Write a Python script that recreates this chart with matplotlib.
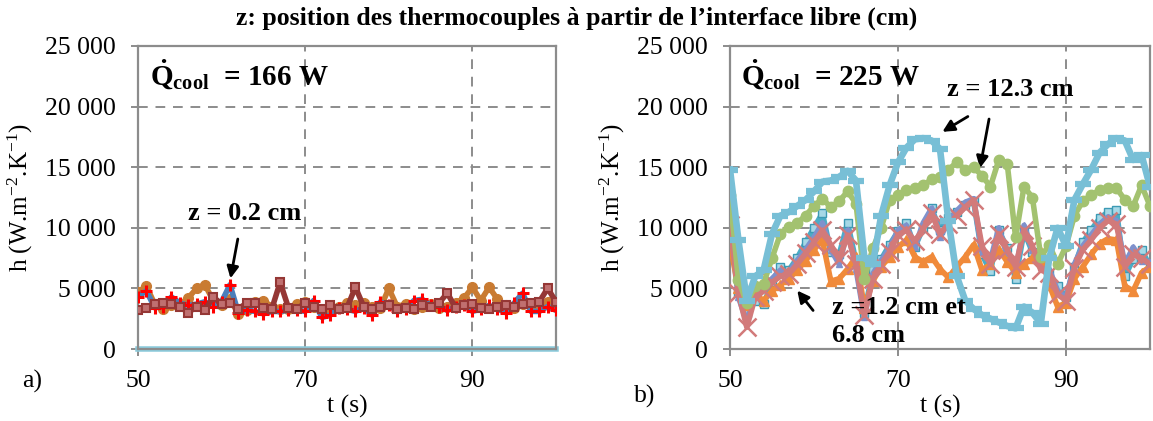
import numpy as np
import matplotlib
matplotlib.use("Agg")
import matplotlib.pyplot as plt
from matplotlib.ticker import FuncFormatter

plt.rcParams['font.family'] = ['Liberation Serif', 'DejaVu Serif']
plt.rcParams['mathtext.fontset'] = 'custom'
plt.rcParams['mathtext.rm'] = 'Liberation Serif'
plt.rcParams['mathtext.bf'] = 'Liberation Serif:bold'
plt.rcParams['mathtext.it'] = 'Liberation Serif:italic'

t = np.arange(50, 101)

# a) Qcool = 166 W
a_blue = [4300, 4800, 3400, 3500, 4300, 3800, 3600, 3700, 3900, 3500, 3900, 5300, 3000,
          3200, 3100, 2900, 3100, 3100, 3200, 3200, 3100, 4000, 2600, 2800, 3400, 3300,
          3100, 3400, 2800, 3900, 3600, 3100, 3300, 4000, 4100, 3600, 3500, 3200, 3500,
          3600, 3100, 3300, 3600, 3300, 3000, 3800, 4600, 3100, 3100, 3500, 3200]
a_orange = [4700, 5200, 3700, 3300, 3600, 3700, 4200, 5000, 5300, 4000, 3600, 4100, 2900,
            3200, 3900, 4000, 3500, 3300, 3300, 3700, 3900, 3500, 3200, 3400, 3500, 3800,
            3600, 3800, 3500, 3400, 5000, 3500, 3700, 3300, 3500, 3700, 3400, 3500, 3800,
            4200, 5100, 4000, 5100, 4100, 3600, 3400, 3700, 3600, 3700, 3900, 3500]
a_darkred = [3200, 3400, 3700, 3800, 3700, 3500, 3000, 3500, 3200, 4300, 3700, 3800, 3300,
             3800, 3800, 3400, 3300, 5500, 3400, 3300, 3800, 3500, 3300, 3600, 3300, 3400,
             5100, 3500, 3300, 3500, 3600, 3300, 3400, 3300, 3600, 3500, 3800, 4600, 3400,
             3600, 3700, 3400, 3300, 3500, 3600, 3500, 3700, 3800, 3900, 5000, 3900]
a_lightblue = [0] * 51

# b) Qcool = 225 W
b_lightblue = [14800, 9000, 4000, 6000, 6500, 9500, 11000, 11300, 11800, 12300, 13000, 13800,
               13900, 14200, 14700, 13900, 7500, 7000, 11000, 13500, 15400, 16600, 17300, 17400,
               17200, 16500, 10600, 6000, 4000, 3300, 2800, 2500, 2200, 1900, 1700, 3500, 3000,
               2100, 7500, 10000, 8500, 12300, 13600, 14800, 16200, 16900, 17400, 17200, 15600,
               16000, 13400]
b_green = [12700, 5700, 3800, 5200, 5400, 7500, 9500, 10100, 10400, 11000, 11800, 12400, 11700,
           12200, 13000, 12000, 5800, 8300, 10000, 12300, 12700, 13100, 13300, 13500, 14000,
           14200, 14800, 15400, 14800, 15000, 14300, 13400, 15600, 15300, 9200, 13400, 12500,
           7600, 8600, 7000, 8500, 11000, 12200, 12700, 13100, 13300, 13300, 12300, 11800,
           13500, 11800]
b_teal = [11300, 4600, 3000, 4000, 3700, 5500, 6800, 6500, 7500, 8800, 10000, 11200, 8000,
          7800, 10400, 7200, 3000, 6500, 7400, 8600, 9700, 10400, 8400, 10000, 11600, 9800,
          10800, 11300, 11900, 12200, 7800, 6400, 9800, 8300, 5800, 9700, 8000, 7200, 6200,
          5200, 4300, 6800, 8800, 9800, 10800, 11300, 11500, 6000, 7400, 8200, 6800]
b_purple = [9800, 4300, 2200, 4600, 5200, 5800, 6500, 6300, 7300, 8200, 9200, 10400, 8200,
            7000, 9800, 6600, 2600, 6200, 7300, 8300, 9800, 10200, 8400, 10400, 11600, 9200,
            10500, 11400, 12100, 12400, 8000, 7300, 10000, 7700, 6500, 10200, 8200, 6800, 6600,
            4800, 4200, 7000, 8500, 9400, 10300, 10900, 10600, 7000, 8400, 7300, 7200]
b_orange = [8700, 5000, 3600, 4500, 4000, 4800, 5300, 5800, 6500, 7300, 8200, 9000, 5600,
            5800, 6600, 7600, 3400, 5600, 6800, 7600, 8400, 9000, 7600, 7200, 7600, 6600,
            5900, 6800, 7600, 8600, 6500, 7000, 8200, 7200, 6300, 7000, 7500, 8000, 5300,
            3500, 3800, 5800, 6800, 7800, 8700, 9100, 9000, 5200, 4800, 6300, 6800]
b_salmon = [10200, 4600, 1800, 4300, 4800, 5500, 6000, 6200, 7000, 7900, 8800, 9800, 8600,
            7400, 9400, 7000, 2800, 5800, 7000, 8000, 9400, 9800, 8900, 9900, 11200, 9500,
            10300, 11000, 11700, 12300, 8500, 7000, 9500, 8200, 6800, 9800, 8500, 6500, 6300,
            4500, 4000, 6700, 8200, 9000, 10000, 10600, 10300, 6800, 7800, 7500, 7000]

W, H = 1153, 421
fig = plt.figure(figsize=(W / 100, H / 100), dpi=100)


def px(x, y):
    return x / W, 1 - y / H


def space_thousands(v, pos):
    return f"{int(v):,}".replace(",", " ")


def setup(ax):
    ax.set_xlim(50, 100)
    ax.set_ylim(0, 25000)
    ax.set_xticks([50, 70, 90])
    ax.set_yticks(np.arange(0, 25001, 5000))
    ax.yaxis.set_major_formatter(FuncFormatter(space_thousands))
    ax.grid(True, color='#8c8c8c', linestyle=(0, (5, 4)), linewidth=1.4)
    ax.set_axisbelow(True)
    for s in ax.spines.values():
        s.set_color('#8c8c8c')
        s.set_linewidth(1.6)
    ax.tick_params(axis='both', colors='#8c8c8c', labelcolor='black', length=5,
                   width=1.4, labelsize=18.5)
    ax.tick_params(axis='x', pad=10)
    ax.tick_params(axis='y', pad=11)
    ax.set_xlabel('t (s)', fontsize=18.5, labelpad=2)
    ax.set_ylabel('h (W.m$^{-2}$.K$^{-1}$)', fontsize=18, labelpad=7)


ax1 = fig.add_axes([138 / W, 1 - 349 / H, 418 / W, 303 / H])
ax2 = fig.add_axes([730 / W, 1 - 349 / H, 420 / W, 303 / H])
setup(ax1)
setup(ax2)

lw = 4
ax1.plot(t, a_lightblue, color='#8ccbdc', lw=lw, zorder=2, clip_on=False)
ax1.plot(t, a_orange, color='#c97b32', lw=lw, marker='o', ms=7, zorder=3)
ax1.plot(t, a_blue, color='#4a7ebb', lw=lw, marker='+', ms=9, mew=2.2,
         mec='#ff0000', zorder=4)
ax1.plot(t, a_darkred, color='#953735', lw=lw, marker='s', ms=6, mfc='#c07070',
         mec='#953735', mew=1.5, zorder=5)

ax2.plot(t, b_teal, color='#4bacc6', lw=lw, marker='s', ms=6, mfc='#a6d8e6',
         mec='#3c9ab4', zorder=3)
ax2.plot(t, b_purple, color='#7f91cc', lw=lw, marker='^', ms=5, zorder=4)
ax2.plot(t, b_orange, color='#f08a3a', lw=lw, marker='^', ms=7, zorder=5)
ax2.plot(t, b_salmon, color='#d27a7a', lw=lw, marker='x', ms=13, mew=1.8, zorder=6)
ax2.plot(t, b_green, color='#a3c270', lw=lw, marker='o', ms=7.5, zorder=7)
ax2.plot(t, b_lightblue, color='#78bfd6', lw=lw + 0.8, marker='_', ms=12, mew=4.5,
         zorder=8)

bold = dict(fontweight='bold', fontsize=19)
fig.text(*px(150, 75), r'$\mathbf{\dot{Q}_{cool}}$  = 166 W', va='center', ha='left',
         fontweight='bold', fontsize=21)
fig.text(*px(741, 75), r'$\mathbf{\dot{Q}_{cool}}$  = 225 W', va='center', ha='left',
         fontweight='bold', fontsize=21)

arrow = dict(arrowstyle='-|>,head_length=0.7,head_width=0.35', color='black', lw=2)
ax1.annotate('', xy=(61, 5600), xytext=(62, 9300), arrowprops=arrow)
fig.text(*px(188, 214), 'z = 0.2 cm', va='center', ha='left', **bold)

fig.text(*px(947, 90), 'z = 12.3 cm', va='center', ha='left', **bold)
ax2.annotate('', xy=(75.0, 17800), xytext=(78.6, 19300), arrowprops=arrow)
ax2.annotate('', xy=(79.7, 14700), xytext=(80.9, 19200), arrowprops=arrow)

fig.text(*px(832, 307), 'z =1.2 cm et', va='center', ha='left', **bold)
fig.text(*px(832, 336), '6.8 cm', va='center', ha='left', **bold)
ax2.annotate('', xy=(57.8, 5000), xytext=(60.1, 3000), arrowprops=arrow)

fig.text(*px(577, 18), "z: position des thermocouples à partir de l\u2019interface libre (cm)",
         ha='center', va='center', fontweight='bold', fontsize=18.5)
fig.text(*px(22, 381), 'a)', ha='left', va='center', fontsize=18.5)
fig.text(*px(634, 396), 'b)', ha='left', va='center', fontsize=18.5)

fig.savefig('out.png', dpi=100)
